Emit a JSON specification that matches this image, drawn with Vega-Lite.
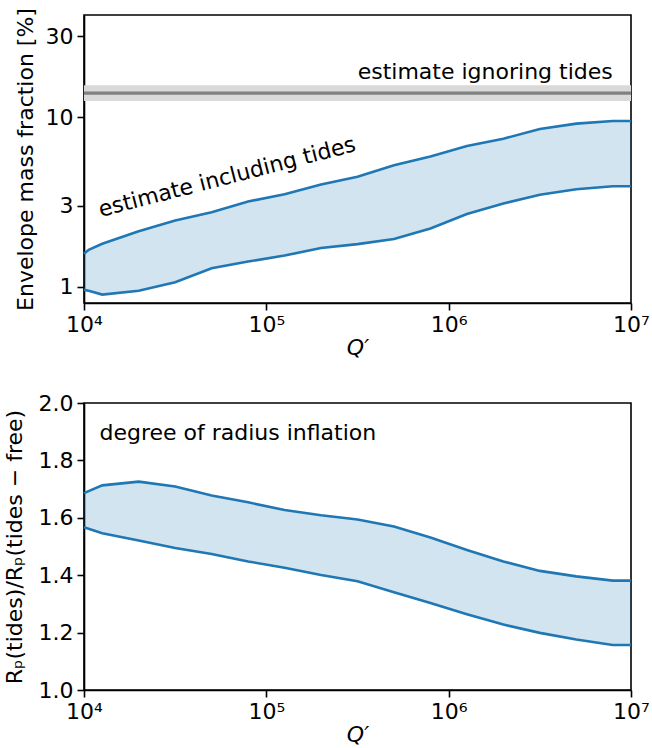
{
  "$schema": "https://vega.github.io/schema/vega-lite/v6.json",
  "padding": {"left": 2, "top": 6, "right": 0, "bottom": 2},
  "background": "white",
  "config": {
    "font": "DejaVu Sans",
    "view": {"stroke": "black", "strokeWidth": 1.6},
    "axis": {
      "grid": false,
      "domainColor": "black",
      "domainWidth": 1.6,
      "tickColor": "black",
      "tickWidth": 1.6,
      "tickSize": 7,
      "labelFontSize": 22,
      "labelColor": "black",
      "labelPadding": 4,
      "labelFlush": false,
      "labelOverlap": false,
      "titleFontSize": 22,
      "titleFontWeight": "normal",
      "titleColor": "black"
    }
  },
  "datasets": {
    "top": [
      {"q": 10000, "lo": 0.956, "hi": 1.56},
      {"q": 10612, "lo": 0.945, "hi": 1.647},
      {"q": 12589, "lo": 0.897, "hi": 1.787},
      {"q": 19953, "lo": 0.945, "hi": 2.12},
      {"q": 31623, "lo": 1.06, "hi": 2.454},
      {"q": 50119, "lo": 1.283, "hi": 2.747},
      {"q": 79433, "lo": 1.405, "hi": 3.177},
      {"q": 125893, "lo": 1.524, "hi": 3.5},
      {"q": 199526, "lo": 1.69, "hi": 4.0},
      {"q": 316228, "lo": 1.78, "hi": 4.45},
      {"q": 501187, "lo": 1.91, "hi": 5.2},
      {"q": 794328, "lo": 2.2, "hi": 5.85},
      {"q": 1258925, "lo": 2.68, "hi": 6.75},
      {"q": 1995262, "lo": 3.09, "hi": 7.45},
      {"q": 3162278, "lo": 3.48, "hi": 8.5},
      {"q": 5011872, "lo": 3.75, "hi": 9.15},
      {"q": 7943282, "lo": 3.91, "hi": 9.47},
      {"q": 10000000, "lo": 3.91, "hi": 9.47}
    ],
    "bottom": [
      {"q": 10000, "lo": 1.567, "hi": 1.686},
      {"q": 12589, "lo": 1.546, "hi": 1.713},
      {"q": 19953, "lo": 1.521, "hi": 1.726},
      {"q": 31623, "lo": 1.495, "hi": 1.709},
      {"q": 50119, "lo": 1.474, "hi": 1.678},
      {"q": 79433, "lo": 1.448, "hi": 1.654},
      {"q": 125893, "lo": 1.426, "hi": 1.627},
      {"q": 199526, "lo": 1.401, "hi": 1.609},
      {"q": 316228, "lo": 1.379, "hi": 1.594},
      {"q": 501187, "lo": 1.341, "hi": 1.57},
      {"q": 794328, "lo": 1.303, "hi": 1.531},
      {"q": 1258925, "lo": 1.264, "hi": 1.488},
      {"q": 1995262, "lo": 1.228, "hi": 1.448},
      {"q": 3162278, "lo": 1.199, "hi": 1.415},
      {"q": 5011872, "lo": 1.176, "hi": 1.396},
      {"q": 7943282, "lo": 1.157, "hi": 1.381},
      {"q": 10000000, "lo": 1.157, "hi": 1.381}
    ]
  },
  "bounds": "flush",
  "spacing": 100,
  "vconcat": [
    {
      "width": 547,
      "height": 288,
      "layer": [
        {
          "data": {"values": [{"lo": 12.43, "hi": 15.4}]},
          "mark": {"type": "rect", "color": "#d9d9d9"},
          "encoding": {
            "y": {"field": "lo", "type": "quantitative", "scale": {"type": "log", "domain": [0.8, 40], "nice": false}, "axis": {"values": [1, 3, 10, 30], "labelExpr": "format(datum.value, 'd')", "title": "Envelope mass fraction [%]", "titlePadding": 8}},
            "y2": {"field": "hi"}
          }
        },
        {
          "data": {"values": [{"v": 13.86}]},
          "mark": {"type": "rule", "color": "#808080", "strokeWidth": 3.2},
          "encoding": {
            "y": {"field": "v", "type": "quantitative", "scale": {"type": "log", "domain": [0.8, 40], "nice": false}, "axis": {"values": [1, 3, 10, 30], "labelExpr": "format(datum.value, 'd')", "title": "Envelope mass fraction [%]", "titlePadding": 8}}
          }
        },
        {
          "data": {"name": "top"},
          "layer": [
            {
              "mark": {"type": "area", "color": "#1f77b4", "opacity": 0.2},
              "encoding": {
                "x": {"field": "q", "type": "quantitative", "scale": {"type": "log", "domain": [10000, 10000000], "nice": false}, "axis": {"values": [10000, 100000, 1000000, 10000000], "labelExpr": "datum.value < 50000 ? '10⁴' : datum.value < 500000 ? '10⁵' : datum.value < 5000000 ? '10⁶' : '10⁷'", "title": "Q′", "titleFontStyle": "italic", "titlePadding": 2}},
                "y": {"field": "lo", "type": "quantitative", "scale": {"type": "log", "domain": [0.8, 40], "nice": false}, "axis": {"values": [1, 3, 10, 30], "labelExpr": "format(datum.value, 'd')", "title": "Envelope mass fraction [%]", "titlePadding": 8}},
                "y2": {"field": "hi"}
              }
            },
            {
              "mark": {"type": "line", "color": "#1f77b4", "strokeWidth": 2.6},
              "encoding": {
                "x": {"field": "q", "type": "quantitative", "scale": {"type": "log", "domain": [10000, 10000000], "nice": false}, "axis": {"values": [10000, 100000, 1000000, 10000000], "labelExpr": "datum.value < 50000 ? '10⁴' : datum.value < 500000 ? '10⁵' : datum.value < 5000000 ? '10⁶' : '10⁷'", "title": "Q′", "titleFontStyle": "italic", "titlePadding": 2}},
                "y": {"field": "hi", "type": "quantitative", "scale": {"type": "log", "domain": [0.8, 40], "nice": false}, "axis": {"values": [1, 3, 10, 30], "labelExpr": "format(datum.value, 'd')", "title": "Envelope mass fraction [%]", "titlePadding": 8}}
              }
            },
            {
              "mark": {"type": "line", "color": "#1f77b4", "strokeWidth": 2.6},
              "encoding": {
                "x": {"field": "q", "type": "quantitative", "scale": {"type": "log", "domain": [10000, 10000000], "nice": false}, "axis": {"values": [10000, 100000, 1000000, 10000000], "labelExpr": "datum.value < 50000 ? '10⁴' : datum.value < 500000 ? '10⁵' : datum.value < 5000000 ? '10⁶' : '10⁷'", "title": "Q′", "titleFontStyle": "italic", "titlePadding": 2}},
                "y": {"field": "lo", "type": "quantitative", "scale": {"type": "log", "domain": [0.8, 40], "nice": false}, "axis": {"values": [1, 3, 10, 30], "labelExpr": "format(datum.value, 'd')", "title": "Envelope mass fraction [%]", "titlePadding": 8}}
              }
            }
          ]
        },
        {
          "data": {"values": [
            {"q": 7940000, "v": 16.86, "label": "estimate ignoring tides", "angle": 0},
            {"q": 12350, "v": 2.573, "label": "estimate including tides", "angle": -14.5}
          ]},
          "layer": [
            {
              "transform": [{"filter": "datum.angle == 0"}],
              "mark": {"type": "text", "fontSize": 22, "align": "right", "baseline": "alphabetic", "color": "black"},
              "encoding": {
                "x": {"field": "q", "type": "quantitative", "scale": {"type": "log", "domain": [10000, 10000000], "nice": false}, "axis": {"values": [10000, 100000, 1000000, 10000000], "labelExpr": "datum.value < 50000 ? '10⁴' : datum.value < 500000 ? '10⁵' : datum.value < 5000000 ? '10⁶' : '10⁷'", "title": "Q′", "titleFontStyle": "italic", "titlePadding": 2}},
                "y": {"field": "v", "type": "quantitative", "scale": {"type": "log", "domain": [0.8, 40], "nice": false}, "axis": {"values": [1, 3, 10, 30], "labelExpr": "format(datum.value, 'd')", "title": "Envelope mass fraction [%]", "titlePadding": 8}},
                "text": {"field": "label"}
              }
            },
            {
              "transform": [{"filter": "datum.angle != 0"}],
              "mark": {"type": "text", "fontSize": 22, "align": "left", "baseline": "alphabetic", "angle": -14.5, "color": "black"},
              "encoding": {
                "x": {"field": "q", "type": "quantitative", "scale": {"type": "log", "domain": [10000, 10000000], "nice": false}, "axis": {"values": [10000, 100000, 1000000, 10000000], "labelExpr": "datum.value < 50000 ? '10⁴' : datum.value < 500000 ? '10⁵' : datum.value < 5000000 ? '10⁶' : '10⁷'", "title": "Q′", "titleFontStyle": "italic", "titlePadding": 2}},
                "y": {"field": "v", "type": "quantitative", "scale": {"type": "log", "domain": [0.8, 40], "nice": false}, "axis": {"values": [1, 3, 10, 30], "labelExpr": "format(datum.value, 'd')", "title": "Envelope mass fraction [%]", "titlePadding": 8}},
                "text": {"field": "label"}
              }
            }
          ]
        }
      ]
    },
    {
      "width": 547,
      "height": 287,
      "layer": [
        {
          "data": {"name": "bottom"},
          "layer": [
            {
              "mark": {"type": "area", "color": "#1f77b4", "opacity": 0.2},
              "encoding": {
                "x": {"field": "q", "type": "quantitative", "scale": {"type": "log", "domain": [10000, 10000000], "nice": false}, "axis": {"values": [10000, 100000, 1000000, 10000000], "labelExpr": "datum.value < 50000 ? '10⁴' : datum.value < 500000 ? '10⁵' : datum.value < 5000000 ? '10⁶' : '10⁷'", "title": "Q′", "titleFontStyle": "italic", "titlePadding": 2}},
                "y": {"field": "lo", "type": "quantitative", "scale": {"domain": [1, 2], "nice": false, "zero": false}, "axis": {"values": [1, 1.2, 1.4, 1.6, 1.8, 2], "format": ".1f", "title": "Rₚ(tides)/Rₚ(tides − free)", "titlePadding": 12}},
                "y2": {"field": "hi"}
              }
            },
            {
              "mark": {"type": "line", "color": "#1f77b4", "strokeWidth": 2.6},
              "encoding": {
                "x": {"field": "q", "type": "quantitative", "scale": {"type": "log", "domain": [10000, 10000000], "nice": false}, "axis": {"values": [10000, 100000, 1000000, 10000000], "labelExpr": "datum.value < 50000 ? '10⁴' : datum.value < 500000 ? '10⁵' : datum.value < 5000000 ? '10⁶' : '10⁷'", "title": "Q′", "titleFontStyle": "italic", "titlePadding": 2}},
                "y": {"field": "hi", "type": "quantitative", "scale": {"domain": [1, 2], "nice": false, "zero": false}, "axis": {"values": [1, 1.2, 1.4, 1.6, 1.8, 2], "format": ".1f", "title": "Rₚ(tides)/Rₚ(tides − free)", "titlePadding": 12}}
              }
            },
            {
              "mark": {"type": "line", "color": "#1f77b4", "strokeWidth": 2.6},
              "encoding": {
                "x": {"field": "q", "type": "quantitative", "scale": {"type": "log", "domain": [10000, 10000000], "nice": false}, "axis": {"values": [10000, 100000, 1000000, 10000000], "labelExpr": "datum.value < 50000 ? '10⁴' : datum.value < 500000 ? '10⁵' : datum.value < 5000000 ? '10⁶' : '10⁷'", "title": "Q′", "titleFontStyle": "italic", "titlePadding": 2}},
                "y": {"field": "lo", "type": "quantitative", "scale": {"domain": [1, 2], "nice": false, "zero": false}, "axis": {"values": [1, 1.2, 1.4, 1.6, 1.8, 2], "format": ".1f", "title": "Rₚ(tides)/Rₚ(tides − free)", "titlePadding": 12}}
              }
            }
          ]
        },
        {
          "data": {"values": [{"q": 12150, "v": 1.8696, "label": "degree of radius inflation"}]},
          "mark": {"type": "text", "fontSize": 22, "align": "left", "baseline": "alphabetic", "color": "black"},
          "encoding": {
            "x": {"field": "q", "type": "quantitative", "scale": {"type": "log", "domain": [10000, 10000000], "nice": false}, "axis": {"values": [10000, 100000, 1000000, 10000000], "labelExpr": "datum.value < 50000 ? '10⁴' : datum.value < 500000 ? '10⁵' : datum.value < 5000000 ? '10⁶' : '10⁷'", "title": "Q′", "titleFontStyle": "italic", "titlePadding": 2}},
            "y": {"field": "v", "type": "quantitative", "scale": {"domain": [1, 2], "nice": false, "zero": false}, "axis": {"values": [1, 1.2, 1.4, 1.6, 1.8, 2], "format": ".1f", "title": "Rₚ(tides)/Rₚ(tides − free)", "titlePadding": 12}},
            "text": {"field": "label"}
          }
        }
      ]
    }
  ]
}
